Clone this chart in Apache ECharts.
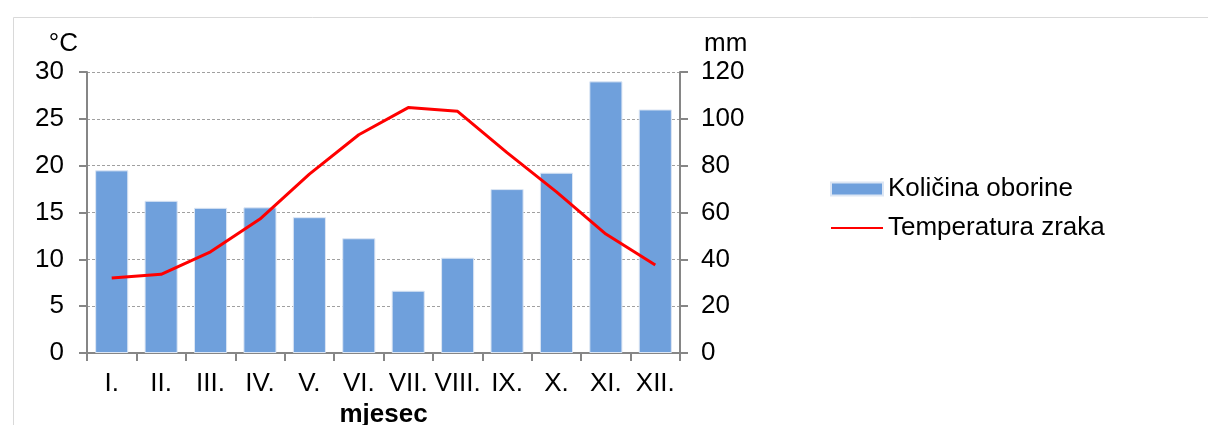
<!DOCTYPE html>
<html>
<head>
<meta charset="utf-8">
<script src="https://cdn.jsdelivr.net/npm/echarts@6/dist/echarts.min.js"></script>
<style>html,body{margin:0;padding:0;background:#fff;}#c{width:1208px;height:425px;}</style>
</head>
<body>
<div id="c"></div>
<script>
const months = ['I.', 'II.', 'III.', 'IV.', 'V.', 'VI.', 'VII.', 'VIII.', 'IX.', 'X.', 'XI.', 'XII.'];
const precipitation = [78, 65, 62, 62.2, 58, 49, 26.6, 40.7, 70, 77, 116, 104];
const temperature = [8.0, 8.4, 10.8, 14.3, 19.1, 23.3, 26.2, 25.8, 21.4, 17.2, 12.7, 9.4];
const seriesNames = ['Količina oborine', 'Temperatura zraka'];
const axisNames = ['°C', 'mm', 'mjesec'];

const FONT = '"Liberation Sans", Arial, sans-serif';
const chart = echarts.init(document.getElementById('c'), null, {renderer: 'canvas'});
const axisLineStyle = {color: '#868686', width: 2};
const gridLine = {show: true, lineStyle: {color: '#a0a0a0', width: 1, type: [3, 2]}};

chart.setOption({
  animation: false,
  backgroundColor: '#fff',
  textStyle: {fontFamily: FONT},
  graphic: [{
    type: 'rect', left: 11, top: 15, z: -10, silent: true,
    shape: {x: 0, y: 0, width: 1400, height: 600},
    style: {fill: 'none', stroke: '#d9d9d9', lineWidth: 1}
  }],
  grid: {left: 87, right: 528, top: 72, bottom: 72, containLabel: false, outerBoundsMode: 'none'},
  legend: {
    left: 825, top: 171, orient: 'vertical',
    itemWidth: 52, itemHeight: 13, itemGap: 13,
    textStyle: {fontSize: 26, color: '#000', fontFamily: FONT},
    data: [
      {name: seriesNames[0], icon: 'rect'},
      {name: seriesNames[1], itemStyle: {opacity: 0}}
    ]
  },
  xAxis: {
    type: 'category', data: months,
    name: axisNames[2], nameLocation: 'middle', nameGap: 48,
    nameTextStyle: {fontSize: 26, fontWeight: 'bold', color: '#000', fontFamily: FONT},
    axisLine: {lineStyle: axisLineStyle},
    axisTick: {show: true, length: 8, lineStyle: axisLineStyle},
    axisLabel: {fontSize: 26, color: '#000', margin: 18, interval: 0, fontFamily: FONT},
    splitLine: {show: false}
  },
  yAxis: [{
    type: 'value', min: 0, max: 30, interval: 5, position: 'left',
    name: axisNames[0], nameLocation: 'end', nameGap: 15,
    nameTextStyle: {fontSize: 26, color: '#000', align: 'right', padding: [0, 9, 0, 0], fontFamily: FONT},
    axisLine: {show: true, lineStyle: axisLineStyle},
    axisTick: {show: true, length: 8, lineStyle: axisLineStyle},
    axisLabel: {fontSize: 26, color: '#000', margin: 23, fontFamily: FONT},
    splitLine: gridLine
  }, {
    type: 'value', min: 0, max: 120, interval: 20, position: 'right',
    name: axisNames[1], nameLocation: 'end', nameGap: 15,
    nameTextStyle: {fontSize: 26, color: '#000', align: 'left', padding: [0, 0, 0, 24], fontFamily: FONT},
    axisLine: {show: true, lineStyle: axisLineStyle},
    axisTick: {show: true, length: 8, lineStyle: axisLineStyle},
    axisLabel: {fontSize: 26, color: '#000', margin: 21, fontFamily: FONT},
    splitLine: {show: false}
  }],
  series: [{
    name: seriesNames[0], type: 'bar', yAxisIndex: 1, data: precipitation,
    barWidth: '67%',
    itemStyle: {color: '#6fa0dc', borderColor: '#dce6f4', borderWidth: 1}
  }, {
    name: seriesNames[1], type: 'line', yAxisIndex: 0, data: temperature,
    symbol: 'none', showSymbol: false, smooth: false, z: 5,
    lineStyle: {color: '#ff0000', width: 3},
    itemStyle: {color: '#ff0000'}
  }]
});
</script>
</body>
</html>
